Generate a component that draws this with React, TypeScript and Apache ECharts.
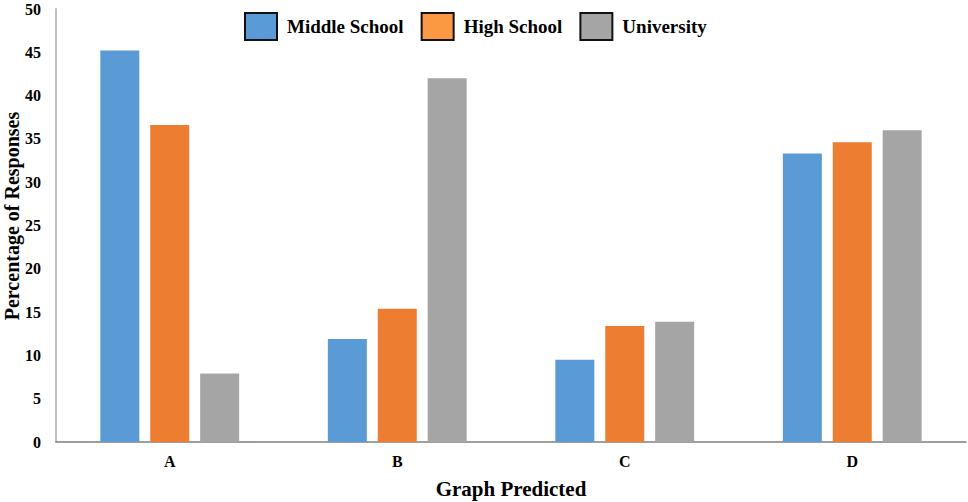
import React, { useEffect, useRef } from "react";
import * as echarts from "echarts";

const categories = ["A", "B", "C", "D"];
const seriesNames = ["Middle School", "High School", "University"];
const middleSchool = [45.2, 11.9, 9.5, 33.3];
const highSchool = [36.6, 15.4, 13.4, 34.6];
const university = [7.9, 42.0, 13.9, 36.0];
const barColors = ["#5b9bd5", "#ed7d31", "#a5a5a5"];
const legendColors = ["#5b9bd5", "#fb9843", "#a5a5a5"];
const yTitle = "Percentage of Responses";
const xTitle = "Graph Predicted";

const FONT = "'Liberation Serif', 'Times New Roman', serif";

export default function App() {
  const ref = useRef<HTMLDivElement>(null);
  useEffect(() => {
    if (!ref.current) return;
    const chart = echarts.init(ref.current, undefined, { renderer: "svg" });
    const values = [middleSchool, highSchool, university];
    chart.setOption({
      animation: false,
      backgroundColor: "#ffffff",
      textStyle: { fontFamily: FONT },
      legend: {
        left: 244,
        top: 12,
        padding: 0,
        itemWidth: 32,
        itemHeight: 27,
        itemGap: 17,
        icon: "rect",
        textStyle: {
          fontFamily: FONT,
          fontWeight: "bold",
          fontSize: 19,
          color: "#000",
          padding: [0, 0, 0, 5],
        },
        data: seriesNames.map((n, i) => ({
          name: n,
          itemStyle: { color: legendColors[i], borderColor: "#111", borderWidth: 2 },
        })),
      },
      graphic: [
        {
          type: "text",
          x: 12,
          y: 216,
          rotation: Math.PI / 2,
          style: {
            text: yTitle,
            font: `bold 20px ${FONT}`,
            fill: "#000",
            align: "center",
            verticalAlign: "middle",
          },
        },
      ],
      grid: { left: 56, right: 2, top: 9, bottom: 60, outerBoundsMode: "none", containLabel: false },
      xAxis: {
        type: "category",
        data: categories,
        name: xTitle,
        nameLocation: "middle",
        nameGap: 36,
        nameMoveOverlap: false,
        nameTextStyle: { fontFamily: FONT, fontWeight: "bold", fontSize: 21, color: "#000" },
        axisLine: { lineStyle: { color: "#7f7f7f", width: 1.5 } },
        axisTick: { show: false },
        axisLabel: { fontFamily: FONT, fontWeight: "bold", fontSize: 16, color: "#000", margin: 11 },
      },
      yAxis: {
        type: "value",
        min: 0,
        max: 50,
        interval: 5,
        axisLine: { show: true, lineStyle: { color: "#bfbfbf", width: 2 } },
        axisTick: { show: false },
        splitLine: { show: false },
        axisLabel: { fontFamily: FONT, fontWeight: "bold", fontSize: 16, color: "#000", margin: 15 },
      },
      series: seriesNames.map((n, i) => ({
        name: n,
        type: "bar",
        data: values[i],
        barWidth: 39,
        barGap: "28%",
        itemStyle: { color: barColors[i] },
      })),
    });
    return () => chart.dispose();
  }, []);
  return <div ref={ref} style={{ width: 968, height: 502, position: "absolute", left: 0, top: 0 }} />;
}
